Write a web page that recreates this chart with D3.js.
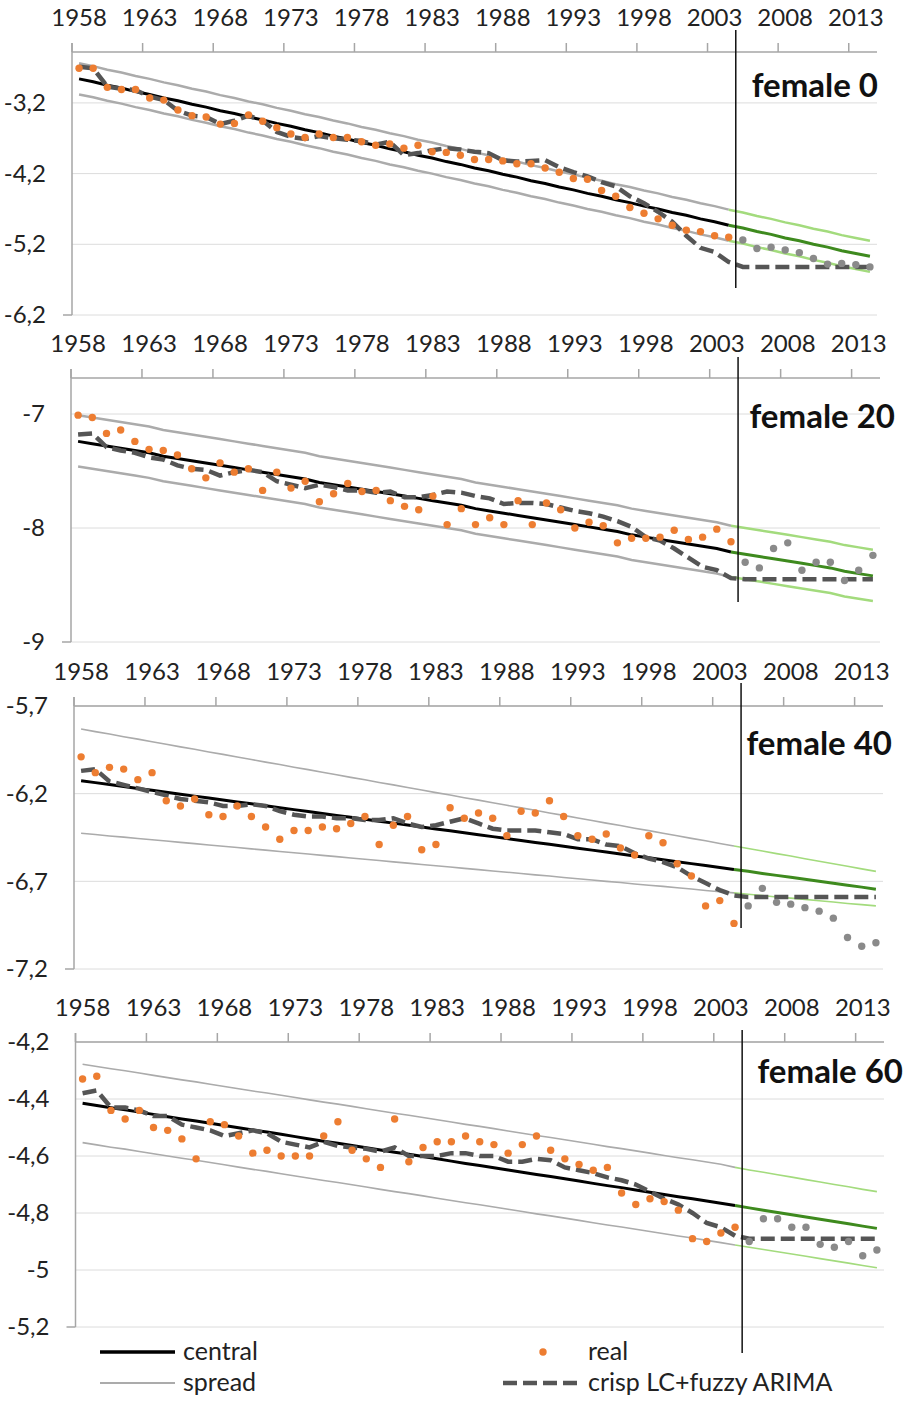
<html>
<head>
<title>Lee-Carter female log mortality</title>
<script src="https://d3js.org/d3.v7.min.js"></script>
<style>
body { margin: 0; background: #fff; }
.axis text { font-family: Lato, sans-serif; font-size: 24px; fill: #222; }
.title { font-family: Lato, sans-serif; font-size: 33px; font-weight: bold; fill: #111; }
.legend text { font-family: Lato, sans-serif; font-size: 25px; fill: #222; }
</style>
</head>
<body>
<div id="vis_container"></div>
<script>

// categories
var years = [1958,1959,1960,1961,1962,1963,1964,1965,1966,1967,1968,1969,1970,1971,1972,1973,1974,1975,1976,1977,
    1978,1979,1980,1981,1982,1983,1984,1985,1986,1987,1988,1989,1990,1991,1992,1993,1994,1995,1996,1997,
    1998,1999,2000,2001,2002,2003,2004,2005,2006,2007,2008,2009,2010,2011,2012,2013,2014];
var lastObserved = 2004;
var xTickYears = [1958,1963,1968,1973,1978,1983,1988,1993,1998,2003,2008,2013];

// female 0
var f0Ticks = [-3.2,-4.2,-5.2,-6.2];
var f0Central = [-2.86,-2.90,-2.95,-2.99,-3.04,-3.08,-3.13,-3.17,-3.22,-3.26,-3.31,-3.35,-3.40,-3.44,-3.49,-3.53,-3.58,-3.62,-3.67,-3.71,
    -3.76,-3.80,-3.85,-3.89,-3.94,-3.98,-4.03,-4.07,-4.12,-4.16,-4.21,-4.25,-4.30,-4.34,-4.39,-4.43,-4.48,-4.52,-4.57,-4.61,
    -4.66,-4.70,-4.75,-4.79,-4.84,-4.88,-4.93,-4.97,-5.02,-5.06,-5.11,-5.15,-5.20,-5.24,-5.29,-5.33,-5.37];
var f0Upper = [-2.64,-2.68,-2.73,-2.77,-2.82,-2.86,-2.91,-2.95,-3.00,-3.04,-3.09,-3.13,-3.18,-3.22,-3.27,-3.31,-3.36,-3.40,-3.45,-3.49,
    -3.54,-3.58,-3.63,-3.67,-3.72,-3.76,-3.81,-3.85,-3.90,-3.94,-3.99,-4.03,-4.08,-4.12,-4.17,-4.21,-4.26,-4.30,-4.35,-4.39,
    -4.44,-4.48,-4.53,-4.57,-4.62,-4.66,-4.71,-4.75,-4.80,-4.84,-4.89,-4.93,-4.98,-5.02,-5.07,-5.11,-5.15];
var f0Lower = [-3.08,-3.12,-3.17,-3.21,-3.26,-3.30,-3.35,-3.39,-3.44,-3.48,-3.53,-3.57,-3.62,-3.66,-3.71,-3.75,-3.80,-3.84,-3.89,-3.93,
    -3.98,-4.02,-4.07,-4.11,-4.16,-4.20,-4.25,-4.29,-4.34,-4.38,-4.43,-4.47,-4.52,-4.56,-4.61,-4.65,-4.70,-4.74,-4.79,-4.83,
    -4.88,-4.92,-4.97,-5.01,-5.06,-5.10,-5.15,-5.19,-5.24,-5.28,-5.33,-5.37,-5.42,-5.46,-5.51,-5.55,-5.59];
var f0Real = [-2.71,-2.71,-2.98,-3.01,-3.01,-3.13,-3.16,-3.30,-3.38,-3.40,-3.50,-3.49,-3.37,-3.46,-3.55,-3.64,-3.69,-3.64,-3.69,-3.69,
    -3.75,-3.80,-3.78,-3.84,-3.80,-3.89,-3.90,-3.94,-4.00,-4.00,-4.02,-4.06,-4.06,-4.12,-4.18,-4.27,-4.28,-4.44,-4.52,-4.68,
    -4.76,-4.84,-4.93,-5.00,-5.02,-5.08,-5.10,-5.14,-5.26,-5.24,-5.28,-5.32,-5.40,-5.48,-5.47,-5.49,-5.52];
var f0Crisp = [-2.69,-2.71,-2.97,-3.00,-3.02,-3.11,-3.16,-3.31,-3.38,-3.40,-3.50,-3.45,-3.38,-3.45,-3.61,-3.68,-3.71,-3.67,-3.70,-3.72,
    -3.74,-3.79,-3.75,-3.94,-3.91,-3.87,-3.84,-3.86,-3.89,-3.91,-4.01,-4.03,-4.02,-4.01,-4.11,-4.18,-4.24,-4.32,-4.38,-4.52,
    -4.62,-4.74,-4.88,-5.08,-5.25,-5.31,-5.45,-5.52,-5.52,-5.52,-5.52,-5.52,-5.52,-5.52,-5.52,-5.52,-5.52];

// female 20
var f20Ticks = [-7,-8,-9];
var f20Central = [-7.24,-7.26,-7.28,-7.30,-7.32,-7.34,-7.37,-7.39,-7.41,-7.43,-7.45,-7.47,-7.49,-7.51,-7.53,-7.55,-7.57,-7.60,-7.62,-7.64,
    -7.66,-7.68,-7.70,-7.72,-7.74,-7.76,-7.78,-7.80,-7.83,-7.85,-7.87,-7.89,-7.91,-7.93,-7.95,-7.97,-7.99,-8.01,-8.03,-8.06,
    -8.08,-8.10,-8.12,-8.14,-8.16,-8.18,-8.21,-8.23,-8.25,-8.27,-8.29,-8.31,-8.33,-8.35,-8.38,-8.40,-8.42];
var f20Upper = [-7.01,-7.03,-7.05,-7.07,-7.09,-7.11,-7.14,-7.16,-7.18,-7.20,-7.22,-7.24,-7.26,-7.28,-7.30,-7.32,-7.34,-7.37,-7.39,-7.41,
    -7.43,-7.45,-7.47,-7.49,-7.51,-7.53,-7.55,-7.57,-7.60,-7.62,-7.64,-7.66,-7.68,-7.70,-7.72,-7.74,-7.76,-7.78,-7.80,-7.83,
    -7.85,-7.87,-7.89,-7.91,-7.93,-7.95,-7.98,-8.00,-8.02,-8.04,-8.06,-8.08,-8.10,-8.12,-8.15,-8.17,-8.19];
var f20Lower = [-7.46,-7.48,-7.50,-7.52,-7.54,-7.56,-7.59,-7.61,-7.63,-7.65,-7.67,-7.69,-7.71,-7.73,-7.75,-7.77,-7.79,-7.82,-7.84,-7.86,
    -7.88,-7.90,-7.92,-7.94,-7.96,-7.98,-8.00,-8.02,-8.05,-8.07,-8.09,-8.11,-8.13,-8.15,-8.17,-8.19,-8.21,-8.23,-8.25,-8.28,
    -8.30,-8.32,-8.34,-8.36,-8.38,-8.40,-8.43,-8.45,-8.47,-8.49,-8.51,-8.53,-8.55,-8.57,-8.60,-8.62,-8.64];
var f20Real = [-7.01,-7.03,-7.17,-7.14,-7.24,-7.31,-7.32,-7.36,-7.48,-7.56,-7.43,-7.51,-7.48,-7.67,-7.51,-7.65,-7.59,-7.77,-7.70,-7.61,
    -7.68,-7.67,-7.76,-7.81,-7.84,-7.72,-7.97,-7.83,-7.97,-7.91,-7.97,-7.76,-7.97,-7.78,-7.84,-8.00,-7.95,-7.98,-8.13,-8.09,
    -8.09,-8.08,-8.02,-8.10,-8.08,-8.01,-8.12,-8.30,-8.35,-8.18,-8.13,-8.37,-8.30,-8.30,-8.46,-8.37,-8.24];
var f20Crisp = [-7.18,-7.17,-7.29,-7.32,-7.34,-7.38,-7.40,-7.45,-7.48,-7.49,-7.54,-7.51,-7.49,-7.51,-7.59,-7.62,-7.65,-7.62,-7.64,-7.67,
    -7.67,-7.69,-7.68,-7.73,-7.73,-7.71,-7.68,-7.69,-7.72,-7.74,-7.79,-7.78,-7.78,-7.79,-7.82,-7.85,-7.87,-7.90,-7.94,-7.99,
    -8.08,-8.11,-8.18,-8.26,-8.34,-8.37,-8.44,-8.45,-8.45,-8.45,-8.45,-8.45,-8.45,-8.45,-8.45,-8.45,-8.45];

// female 40
var f40Ticks = [-5.7,-6.2,-6.7,-7.2];
var f40Central = [-6.126,-6.137,-6.148,-6.159,-6.170,-6.181,-6.192,-6.203,-6.214,-6.225,-6.236,-6.247,-6.258,-6.269,-6.280,-6.291,-6.302,-6.313,-6.324,-6.335,
    -6.346,-6.357,-6.368,-6.379,-6.390,-6.401,-6.412,-6.423,-6.434,-6.445,-6.456,-6.467,-6.478,-6.489,-6.500,-6.511,-6.522,-6.533,-6.544,-6.555,
    -6.566,-6.577,-6.588,-6.599,-6.610,-6.621,-6.632,-6.643,-6.655,-6.666,-6.677,-6.688,-6.700,-6.711,-6.722,-6.733,-6.745];
var f40Upper = [-5.831,-5.846,-5.860,-5.875,-5.889,-5.904,-5.918,-5.933,-5.947,-5.962,-5.976,-5.991,-6.005,-6.020,-6.034,-6.049,-6.063,-6.078,-6.092,-6.107,
    -6.121,-6.136,-6.150,-6.165,-6.179,-6.194,-6.208,-6.223,-6.237,-6.252,-6.266,-6.281,-6.295,-6.310,-6.324,-6.339,-6.353,-6.368,-6.382,-6.397,
    -6.411,-6.426,-6.440,-6.455,-6.469,-6.484,-6.498,-6.513,-6.527,-6.542,-6.556,-6.571,-6.585,-6.600,-6.614,-6.629,-6.643];
var f40Lower = [-6.426,-6.433,-6.441,-6.448,-6.456,-6.463,-6.470,-6.478,-6.485,-6.493,-6.500,-6.507,-6.515,-6.522,-6.530,-6.537,-6.544,-6.552,-6.559,-6.567,
    -6.574,-6.581,-6.589,-6.596,-6.604,-6.611,-6.618,-6.626,-6.633,-6.641,-6.648,-6.655,-6.663,-6.670,-6.678,-6.685,-6.692,-6.700,-6.707,-6.715,
    -6.722,-6.729,-6.737,-6.744,-6.752,-6.759,-6.766,-6.774,-6.781,-6.789,-6.796,-6.803,-6.811,-6.818,-6.826,-6.833,-6.840];
var f40Real = [-5.99,-6.08,-6.05,-6.06,-6.12,-6.08,-6.24,-6.27,-6.23,-6.32,-6.33,-6.27,-6.33,-6.39,-6.46,-6.41,-6.41,-6.39,-6.40,-6.37,
    -6.33,-6.49,-6.38,-6.33,-6.52,-6.49,-6.28,-6.34,-6.31,-6.34,-6.44,-6.30,-6.31,-6.24,-6.33,-6.44,-6.46,-6.43,-6.51,-6.55,
    -6.44,-6.48,-6.60,-6.67,-6.84,-6.81,-6.94,-6.84,-6.74,-6.82,-6.83,-6.85,-6.87,-6.91,-7.02,-7.07,-7.05];
var f40Crisp = [-6.07,-6.06,-6.13,-6.15,-6.17,-6.19,-6.21,-6.23,-6.24,-6.25,-6.27,-6.27,-6.26,-6.27,-6.30,-6.32,-6.33,-6.33,-6.34,-6.34,
    -6.35,-6.35,-6.34,-6.37,-6.39,-6.38,-6.36,-6.34,-6.37,-6.40,-6.41,-6.41,-6.41,-6.42,-6.43,-6.46,-6.46,-6.49,-6.50,-6.54,
    -6.57,-6.59,-6.62,-6.67,-6.71,-6.75,-6.78,-6.79,-6.79,-6.79,-6.79,-6.79,-6.79,-6.79,-6.79,-6.79,-6.79];

// female 60
var f60Ticks = [-4.2,-4.4,-4.6,-4.8,-5,-5.2];
var f60Central = [-4.415,-4.423,-4.431,-4.438,-4.446,-4.454,-4.462,-4.470,-4.477,-4.485,-4.493,-4.501,-4.509,-4.516,-4.524,-4.532,-4.540,-4.548,-4.555,-4.563,
    -4.571,-4.579,-4.587,-4.594,-4.602,-4.610,-4.618,-4.626,-4.633,-4.641,-4.649,-4.657,-4.665,-4.672,-4.680,-4.688,-4.696,-4.704,-4.711,-4.719,
    -4.727,-4.735,-4.743,-4.750,-4.758,-4.766,-4.774,-4.782,-4.790,-4.798,-4.806,-4.814,-4.822,-4.830,-4.838,-4.846,-4.854];
var f60Upper = [-4.278,-4.286,-4.294,-4.301,-4.309,-4.317,-4.325,-4.333,-4.340,-4.348,-4.356,-4.364,-4.372,-4.379,-4.387,-4.395,-4.403,-4.411,-4.418,-4.426,
    -4.434,-4.442,-4.450,-4.457,-4.465,-4.473,-4.481,-4.489,-4.496,-4.504,-4.512,-4.520,-4.528,-4.535,-4.543,-4.551,-4.559,-4.567,-4.574,-4.582,
    -4.590,-4.598,-4.606,-4.613,-4.621,-4.629,-4.640,-4.649,-4.657,-4.666,-4.674,-4.683,-4.691,-4.700,-4.708,-4.717,-4.725];
var f60Lower = [-4.553,-4.561,-4.569,-4.576,-4.584,-4.592,-4.600,-4.608,-4.615,-4.623,-4.631,-4.639,-4.647,-4.654,-4.662,-4.670,-4.678,-4.686,-4.693,-4.701,
    -4.709,-4.717,-4.725,-4.732,-4.740,-4.748,-4.756,-4.764,-4.771,-4.779,-4.787,-4.795,-4.803,-4.810,-4.818,-4.826,-4.834,-4.842,-4.849,-4.857,
    -4.865,-4.873,-4.881,-4.888,-4.896,-4.904,-4.912,-4.920,-4.928,-4.936,-4.944,-4.952,-4.960,-4.968,-4.976,-4.984,-4.992];
var f60Real = [-4.33,-4.32,-4.44,-4.47,-4.44,-4.50,-4.51,-4.54,-4.61,-4.48,-4.49,-4.53,-4.59,-4.58,-4.60,-4.60,-4.60,-4.53,-4.48,-4.58,
    -4.61,-4.64,-4.47,-4.62,-4.57,-4.55,-4.55,-4.53,-4.55,-4.56,-4.59,-4.56,-4.53,-4.58,-4.61,-4.63,-4.65,-4.64,-4.73,-4.77,
    -4.75,-4.76,-4.79,-4.89,-4.90,-4.87,-4.85,-4.90,-4.82,-4.82,-4.85,-4.85,-4.91,-4.92,-4.90,-4.95,-4.93];
var f60Crisp = [-4.38,-4.37,-4.43,-4.43,-4.44,-4.46,-4.46,-4.49,-4.50,-4.51,-4.53,-4.52,-4.51,-4.52,-4.55,-4.56,-4.57,-4.55,-4.565,-4.57,
    -4.575,-4.585,-4.57,-4.60,-4.60,-4.60,-4.59,-4.59,-4.60,-4.60,-4.62,-4.62,-4.61,-4.615,-4.64,-4.65,-4.66,-4.675,-4.685,-4.70,
    -4.725,-4.75,-4.77,-4.80,-4.835,-4.85,-4.88,-4.89,-4.89,-4.89,-4.89,-4.89,-4.89,-4.89,-4.89,-4.89,-4.89];

// layout of the four stacked panels
var panels = [
    {title: "female 0", central: f0Central, upper: f0Upper, lower: f0Lower, real: f0Real, crisp: f0Crisp, ticks: f0Ticks,
     left: 72, right: 877, top: 52, bottom: 315, yMin: -6.2, yMax: -2.48, vTop: 30, vBot: 288, titleX: 878, titleY: 97, spreadW: 2.5},
    {title: "female 20", central: f20Central, upper: f20Upper, lower: f20Lower, real: f20Real, crisp: f20Crisp, ticks: f20Ticks,
     left: 71, right: 880, top: 378, bottom: 642, yMin: -9, yMax: -6.684, vTop: 357, vBot: 602, titleX: 895, titleY: 428, spreadW: 2.5},
    {title: "female 40", central: f40Central, upper: f40Upper, lower: f40Lower, real: f40Real, crisp: f40Crisp, ticks: f40Ticks,
     left: 74, right: 883, top: 706, bottom: 969, yMin: -7.2, yMax: -5.7, vTop: 683, vBot: 928, titleX: 892, titleY: 755, spreadW: 1.6},
    {title: "female 60", central: f60Central, upper: f60Upper, lower: f60Lower, real: f60Real, crisp: f60Crisp, ticks: f60Ticks,
     left: 75.5, right: 884, top: 1042, bottom: 1327, yMin: -5.2, yMax: -4.2, vTop: 1030, vBot: 1353, titleX: 903, titleY: 1083, spreadW: 1.6}
];

var width = 914, height = 1401;

var svg = d3.select("#vis_container")
    .append("svg")
    .attr("width", width)
    .attr("height", height);

svg.append("rect").attr("width", width).attr("height", height).attr("fill", "#fff");

var fmt = function(d) { return String(d).replace(".", ","); };

panels.forEach(function(p) {
    var x = d3.scaleBand().domain(years).range([p.left, p.right]).paddingInner(0).paddingOuter(0);
    var y = d3.scaleLinear().domain([p.yMin, p.yMax]).range([p.bottom, p.top]);
    var bw = x.bandwidth();
    var g = svg.append("g");

    // gridlines
    g.selectAll(".grid")
        .data(p.ticks)
        .enter()
        .append("line")
        .attr("x1", p.left).attr("x2", p.right)
        .attr("y1", function(d) { return y(d); })
        .attr("y2", function(d) { return y(d); })
        .attr("stroke", "#dcdcdc")
        .attr("stroke-width", 1);

    // y axis labels
    var yAxis = g.append("g")
        .attr("class", "axis")
        .attr("transform", "translate(" + p.left + ",0)")
        .call(d3.axisLeft(y).tickValues(p.ticks).tickSize(0).tickPadding(26).tickFormat(fmt));
    yAxis.select(".domain").remove();

    g.append("line")
        .attr("x1", p.left).attr("x2", p.left)
        .attr("y1", p.top - 9).attr("y2", y(p.yMin))
        .attr("stroke", "#a6a6a6").attr("stroke-width", 1.5);
    g.append("line")
        .attr("x1", p.left - 9).attr("x2", p.left)
        .attr("y1", y(p.yMin)).attr("y2", y(p.yMin))
        .attr("stroke", "#a6a6a6").attr("stroke-width", 1.5);

    // top category axis: ticks between categories, labels centred
    var xAxis = g.append("g")
        .attr("class", "axis")
        .attr("transform", "translate(0," + p.top + ")")
        .call(d3.axisTop(x).tickValues(xTickYears).tickSize(9).tickPadding(17).tickSizeOuter(0));
    xAxis.select(".domain").attr("stroke", "#a6a6a6").attr("stroke-width", 1.5)
        .attr("d", "M" + p.left + ",0H" + p.right);
    xAxis.selectAll(".tick line")
        .attr("x1", -bw / 2).attr("x2", -bw / 2)
        .attr("stroke", "#a6a6a6").attr("stroke-width", 1.5);

    var rows = years.map(function(yr, i) {
        return {year: yr, central: p.central[i], upper: p.upper[i], lower: p.lower[i], real: p.real[i], crisp: p.crisp[i]};
    });
    var hist = rows.filter(function(d) { return d.year <= lastObserved; });
    var fore = rows.filter(function(d) { return d.year >= lastObserved; });

    var cx = function(d) { return x(d.year) + bw / 2; };
    var lineOf = function(key) {
        return d3.line().x(cx).y(function(d) { return y(d[key]); });
    };

    ["upper", "lower"].forEach(function(k) {
        g.append("path").datum(hist).attr("d", lineOf(k))
            .attr("fill", "none").attr("stroke", "#ababab").attr("stroke-width", p.spreadW);
        g.append("path").datum(fore).attr("d", lineOf(k))
            .attr("fill", "none").attr("stroke", "#a3db7d").attr("stroke-width", p.spreadW);
    });

    g.append("path").datum(hist).attr("d", lineOf("central"))
        .attr("fill", "none").attr("stroke", "#000").attr("stroke-width", 3);
    g.append("path").datum(fore).attr("d", lineOf("central"))
        .attr("fill", "none").attr("stroke", "#3e8a1e").attr("stroke-width", 3);

    g.append("path").datum(rows).attr("d", lineOf("crisp"))
        .attr("fill", "none").attr("stroke", "#555").attr("stroke-width", 4.5)
        .attr("stroke-dasharray", "14,6");

    g.selectAll(".dot")
        .data(rows)
        .enter()
        .append("circle")
        .attr("cx", cx)
        .attr("cy", function(d) { return y(d.real); })
        .attr("r", 3.7)
        .attr("fill", function(d) { return d.year <= lastObserved ? "#ed7d31" : "#8a8a8a"; });

    // split between fitted and forecast years
    var split = x(lastObserved) + bw;
    g.append("line")
        .attr("x1", split).attr("x2", split)
        .attr("y1", p.vTop).attr("y2", p.vBot)
        .attr("stroke", "#111").attr("stroke-width", 1.5);

    g.append("text")
        .attr("class", "title")
        .attr("x", p.titleX).attr("y", p.titleY)
        .style("text-anchor", "end")
        .text(p.title);
});

// legend
var leg = svg.append("g").attr("class", "legend");
leg.append("line").attr("x1", 100).attr("x2", 175).attr("y1", 1352).attr("y2", 1352)
    .attr("stroke", "#000").attr("stroke-width", 3.5);
leg.append("text").attr("x", 183).attr("y", 1360).text("central");
leg.append("line").attr("x1", 100).attr("x2", 175).attr("y1", 1383).attr("y2", 1383)
    .attr("stroke", "#ababab").attr("stroke-width", 2);
leg.append("text").attr("x", 183).attr("y", 1391).text("spread");
leg.append("circle").attr("cx", 543).attr("cy", 1352).attr("r", 3.7).attr("fill", "#ed7d31");
leg.append("text").attr("x", 588).attr("y", 1360).text("real");
leg.append("line").attr("x1", 503).attr("x2", 583).attr("y1", 1383).attr("y2", 1383)
    .attr("stroke", "#555").attr("stroke-width", 4.5).attr("stroke-dasharray", "14,6");
leg.append("text").attr("x", 588).attr("y", 1391).text("crisp LC+fuzzy ARIMA");

</script>
</body>
</html>
